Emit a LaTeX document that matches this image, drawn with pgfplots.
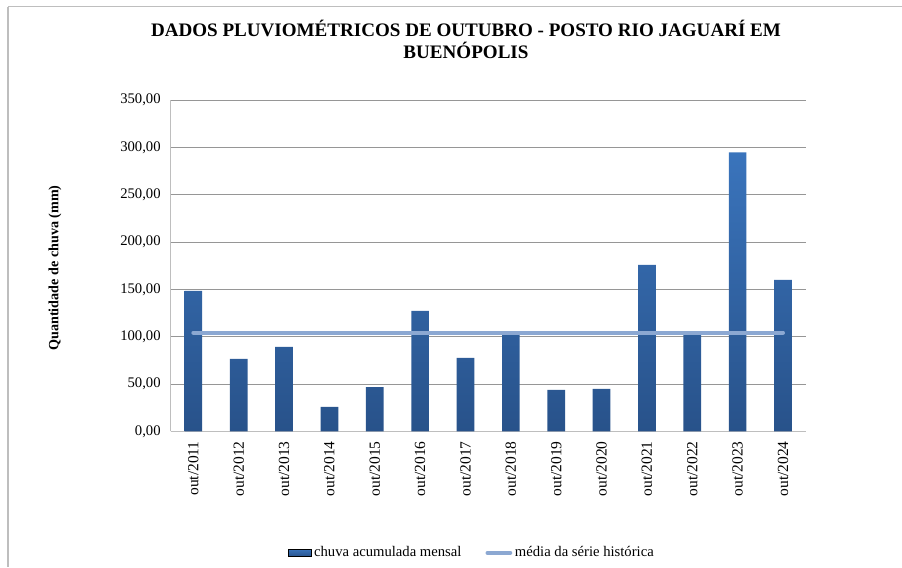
\documentclass[border=0pt]{standalone}
\usepackage{pgfplots}
\pgfplotsset{compat=1.18}
\usepackage{fontspec}
\setmainfont{Liberation Serif}
\definecolor{bartop}{RGB}{58,116,188}
\definecolor{barbot}{RGB}{40,82,138}
\definecolor{meanc}{RGB}{140,168,210}
\definecolor{gridc}{RGB}{150,150,150}
\definecolor{axc}{RGB}{190,190,190}
\begin{document}
\begin{tikzpicture}
\useasboundingbox (0,0) rectangle (676.5pt,425.25pt);
\draw[axc, line width=0.8pt] (6pt,425.25pt-5pt) -- (676.5pt,425.25pt-5pt);
\draw[axc, line width=0.8pt] (6pt,425.25pt-5pt) -- (6pt,0pt);
\node[align=center, font=\fontsize{14.3}{16.5}\selectfont\bfseries] at (349.5pt,396pt)
  {DADOS PLUVIOMÉTRICOS DE OUTUBRO - POSTO RIO JAGUARÍ EM\\BUENÓPOLIS};
\node[rotate=90, font=\fontsize{10.6}{12}\selectfont\bfseries] at (41.25pt,224.25pt) {Quantidade de chuva (mm)};
\begin{axis}[
  at={(128.0pt,101.8pt)}, anchor=south west,
  scale only axis, width=476.25pt, height=248.5pt,
  xmin=-0.5, xmax=13.5, ymin=0, ymax=350,
  ytick={0,50,...,350},
  xtick={0,...,13},
  xticklabels={out/2011,out/2012,out/2013,out/2014,out/2015,out/2016,out/2017,out/2018,out/2019,out/2020,out/2021,out/2022,out/2023,out/2024},
  xticklabel style={rotate=90, anchor=east, font=\fontsize{11.6}{13}\selectfont},
  xticklabel shift=4pt,
  yticklabel style={font=\fontsize{11}{13}\selectfont, xshift=-4pt},
  /pgf/number format/.cd, fixed, fixed zerofill, precision=2, use comma, 1000 sep={}, assume math mode=true,
  /pgfplots/.cd,
  major tick length=0pt,
  ymajorgrids, grid style={gridc, line width=0.6pt},
  axis x line*=bottom, axis y line*=left,
  axis line style={axc, line width=0.8pt},
  legend columns=2,
  legend style={draw=none, at={(0.475,-0.367)}, anchor=center, font=\fontsize{11}{13}\selectfont,
    /tikz/every even column/.append style={column sep=16pt}},
  legend cell align=left,
]
\addplot[ybar, area legend, bar width=0.39, draw=none, top color=bartop, bottom color=barbot] coordinates {
(0,148.2) (1,76.4) (2,89.1) (3,25.7) (4,46.5) (5,127.1) (6,77.4) (7,102.1)
(8,43.6) (9,44.7) (10,175.7) (11,102.1) (12,294.7) (13,159.9)};
\addlegendentry{chuva acumulada mensal}
\addplot[meanc, line width=3pt, line cap=round] coordinates {(0,104.2) (13,104.2)};
\addlegendentry{média da série histórica}
\end{axis}
\end{tikzpicture}
\end{document}
